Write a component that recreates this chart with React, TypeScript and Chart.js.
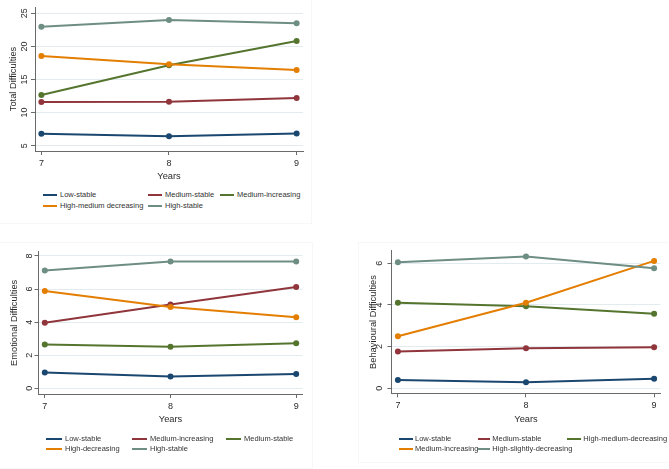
import React, { useEffect, useRef } from "react";
import { Chart, registerables } from "chart.js";

Chart.register(...registerables);

// ---------- data ----------
const years = [7, 8, 9];
const yearTicks = [7, 8, 9];

const totalTicks = [5, 10, 15, 20, 25];
const totalNames = ["Low-stable", "Medium-stable", "Medium-increasing", "High-medium decreasing", "High-stable"];
const totalLowStable = [6.81, 6.41, 6.86];
const totalMediumStable = [11.6, 11.65, 12.2];
const totalMediumIncreasing = [12.66, 17.14, 20.82];
const totalHighMediumDecreasing = [18.55, 17.29, 16.44];
const totalHighStable = [22.98, 23.99, 23.49];

const emoTicks = [0, 2, 4, 6, 8];
const emoNames = ["Low-stable", "Medium-increasing", "Medium-stable", "High-decreasing", "High-stable"];
const emoLowStable = [0.95, 0.71, 0.87];
const emoMediumIncreasing = [3.96, 5.07, 6.12];
const emoMediumStable = [2.65, 2.51, 2.73];
const emoHighDecreasing = [5.88, 4.91, 4.3];
const emoHighStable = [7.13, 7.66, 7.66];

const behTicks = [0, 2, 4, 6];
const behNames = ["Low-stable", "Medium-stable", "High-medium-decreasing", "Medium-increasing", "High-slightly-decreasing"];
const behLowStable = [0.4, 0.29, 0.46];
const behMediumStable = [1.76, 1.92, 1.97];
const behHighMediumDecreasing = [4.1, 3.94, 3.57];
const behMediumIncreasing = [2.5, 4.1, 6.11];
const behHighSlightlyDecreasing = [6.05, 6.32, 5.76];

// ---------- styles ----------
const COLORS = ["#1a476f", "#90353b", "#55752f", "#e37e00", "#6e8e84"];
const FONT = "'Liberation Sans', Arial, sans-serif";
const TXT = "#2a2a2a";
const AXIS = "#6a6a6a";
const GRID = "#e2ecef";
const TICK_SIZE = 9;
const TITLE_SIZE = 9.3;

type PanelCfg = {
  box: { x: number; y: number; w: number; h: number };
  area: { l: number; r: number; t: number; b: number };
  xRange: [number, number];
  yRange: [number, number];
  yTicks: number[];
  yTitle: string;
  yTickCenter: number;
  yTitleCenter: number;
  xTitleCenter: number;
  names: string[];
  values: number[][];
  legendRows: number[];
  legendCols: { l1: number; l2: number; tx: number }[];
};

function Panel({ cfg }: { cfg: PanelCfg }) {
  const ref = useRef<HTMLCanvasElement>(null);
  useEffect(() => {
    const canvas = ref.current!;
    const { box, area } = cfg;
    const W = box.w;
    const H = box.h;
    const aL = area.l - box.x;
    const aR = area.r - box.x;
    const aT = area.t - box.y;
    const aB = area.b - box.y;
    const titleLH = TITLE_SIZE * 1.2;
    const n = cfg.values.length;
    const widest = cfg.yTicks.reduce((m, v) => Math.max(m, String(v).length), 0) * TICK_SIZE * 0.556;
    const yTickPad = area.l - 4 - widest / 2 - cfg.yTickCenter;
    const chart = new Chart(canvas, {
      type: "line",
      data: {
        datasets: cfg.values.map((vals, i) => ({
          label: cfg.names[i],
          data: years.map((x, j) => ({ x, y: vals[j] })),
          borderColor: COLORS[i],
          backgroundColor: COLORS[i],
          pointBackgroundColor: COLORS[i],
          pointBorderColor: COLORS[i],
          pointRadius: 3,
          pointBorderWidth: 0,
          borderWidth: 2,
          tension: 0,
          order: n - i,
        })),
      },
      options: {
        animation: false,
        responsive: false,
        devicePixelRatio: 1,
        layout: { padding: { left: 0, top: aT, right: W - aR, bottom: 0 } },
        plugins: { legend: { display: false }, tooltip: { enabled: false } },
        scales: {
          x: {
            type: "linear",
            min: cfg.xRange[0],
            max: cfg.xRange[1],
            afterBuildTicks: (s: any) => {
              s.ticks = yearTicks.map((v) => ({ value: v }));
            },
            afterFit: (s: any) => {
              s.height = H - aB;
            },
            grid: { display: true, drawOnChartArea: false, drawTicks: true, tickLength: 4, tickColor: AXIS },
            border: { display: true, color: AXIS, width: 1 },
            ticks: { font: { family: FONT, size: TICK_SIZE }, color: TXT, padding: 3, maxRotation: 0, autoSkip: false },
            title: {
              display: true,
              text: "Years",
              font: { family: FONT, size: TITLE_SIZE },
              color: TXT,
              padding: { top: 0, bottom: box.y + H - cfg.xTitleCenter - titleLH / 2 },
            },
          },
          y: {
            type: "linear",
            min: cfg.yRange[0],
            max: cfg.yRange[1],
            afterBuildTicks: (s: any) => {
              s.ticks = cfg.yTicks.map((v) => ({ value: v }));
            },
            afterFit: (s: any) => {
              s.width = aL;
            },
            grid: { display: true, color: GRID, lineWidth: 1, drawTicks: true, tickLength: 4, tickColor: AXIS },
            border: { display: true, color: AXIS, width: 1 },
            ticks: {
              font: { family: FONT, size: TICK_SIZE },
              color: TXT,
              padding: yTickPad,
              minRotation: 90,
              maxRotation: 90,
              crossAlign: "center",
              autoSkip: false,
            },
            title: {
              display: true,
              text: cfg.yTitle,
              font: { family: FONT, size: TITLE_SIZE },
              color: TXT,
              padding: { top: cfg.yTitleCenter - box.x - titleLH / 2, bottom: 0 },
            },
          },
        },
      },
    } as any);
    return () => chart.destroy();
  }, []);

  const legendItems = cfg.names.map((name, i) => {
    const row = Math.floor(i / 3);
    const col = cfg.legendCols[i % 3];
    const y = cfg.legendRows[row];
    return (
      <React.Fragment key={name}>
        <div
          style={{
            position: "absolute",
            left: col.l1,
            top: y - 1,
            width: col.l2 - col.l1,
            height: 2,
            background: COLORS[i],
          }}
        />
        <div
          style={{
            position: "absolute",
            left: col.tx,
            top: y - 5,
            height: 10,
            lineHeight: "10px",
            fontSize: 7.5,
            fontFamily: FONT,
            color: "#333",
            whiteSpace: "nowrap",
          }}
        >
          {name}
        </div>
      </React.Fragment>
    );
  });

  return (
    <>
      <canvas
        ref={ref}
        width={cfg.box.w}
        height={cfg.box.h}
        style={{ position: "absolute", left: cfg.box.x, top: cfg.box.y, width: cfg.box.w, height: cfg.box.h }}
      />
      {legendItems}
    </>
  );
}

const panels: PanelCfg[] = [
  {
    box: { x: 0, y: 0, w: 320, h: 190 },
    area: { l: 35, r: 303, t: 7, b: 151 },
    xRange: [6.95, 9.05],
    yRange: [4.2, 25.95],
    yTicks: totalTicks,
    yTitle: "Total Difficulties",
    yTickCenter: 24.5,
    yTitleCenter: 13.5,
    xTitleCenter: 176,
    names: totalNames,
    values: [totalLowStable, totalMediumStable, totalMediumIncreasing, totalHighMediumDecreasing, totalHighStable],
    legendRows: [195, 205.7],
    legendCols: [
      { l1: 43, l2: 57, tx: 60 },
      { l1: 148, l2: 162, tx: 165 },
      { l1: 220, l2: 234, tx: 237 },
    ],
  },
  {
    box: { x: 0, y: 240, w: 320, h: 195 },
    area: { l: 38.5, r: 302.5, t: 251.7, b: 394 },
    xRange: [6.95, 9.05],
    yRange: [-0.345, 8.26],
    yTicks: emoTicks,
    yTitle: "Emotional Difficulties",
    yTickCenter: 30,
    yTitleCenter: 14,
    xTitleCenter: 419,
    names: emoNames,
    values: [emoLowStable, emoMediumIncreasing, emoMediumStable, emoHighDecreasing, emoHighStable],
    legendRows: [438.7, 449],
    legendCols: [
      { l1: 45.7, l2: 61.7, tx: 65 },
      { l1: 131.7, l2: 146.7, tx: 150 },
      { l1: 226, l2: 241, tx: 244 },
    ],
  },
  {
    box: { x: 335, y: 240, w: 334, h: 195 },
    area: { l: 391.5, r: 660.5, t: 250.7, b: 393.3 },
    xRange: [6.95, 9.05],
    yRange: [-0.24, 6.6],
    yTicks: behTicks,
    yTitle: "Behavioural Difficulties",
    yTickCenter: 380,
    yTitleCenter: 373.5,
    xTitleCenter: 419,
    names: behNames,
    values: [behLowStable, behMediumStable, behHighMediumDecreasing, behMediumIncreasing, behHighSlightlyDecreasing],
    legendRows: [438.7, 449],
    legendCols: [
      { l1: 399, l2: 412.7, tx: 415 },
      { l1: 477.7, l2: 490, tx: 492.3 },
      { l1: 567, l2: 580.7, tx: 583.3 },
    ],
  },
];

export default function App() {
  return (
    <div
      style={{
        position: "absolute",
        left: 0,
        top: 0,
        width: 669,
        height: 469,
        background: "#ffffff",
        overflow: "hidden",
      }}
    >
      <div style={{ position: "absolute", left: -1, top: -1, width: 311, height: 223, border: "1px solid #f7f7f7" }} />
      <div style={{ position: "absolute", left: -1, top: 242, width: 312, height: 225, border: "1px solid #f7f7f7" }} />
      <div style={{ position: "absolute", left: 358, top: 242, width: 320, height: 219, border: "1px solid #f7f7f7" }} />
      {panels.map((p, i) => (
        <Panel key={i} cfg={p} />
      ))}
    </div>
  );
}
